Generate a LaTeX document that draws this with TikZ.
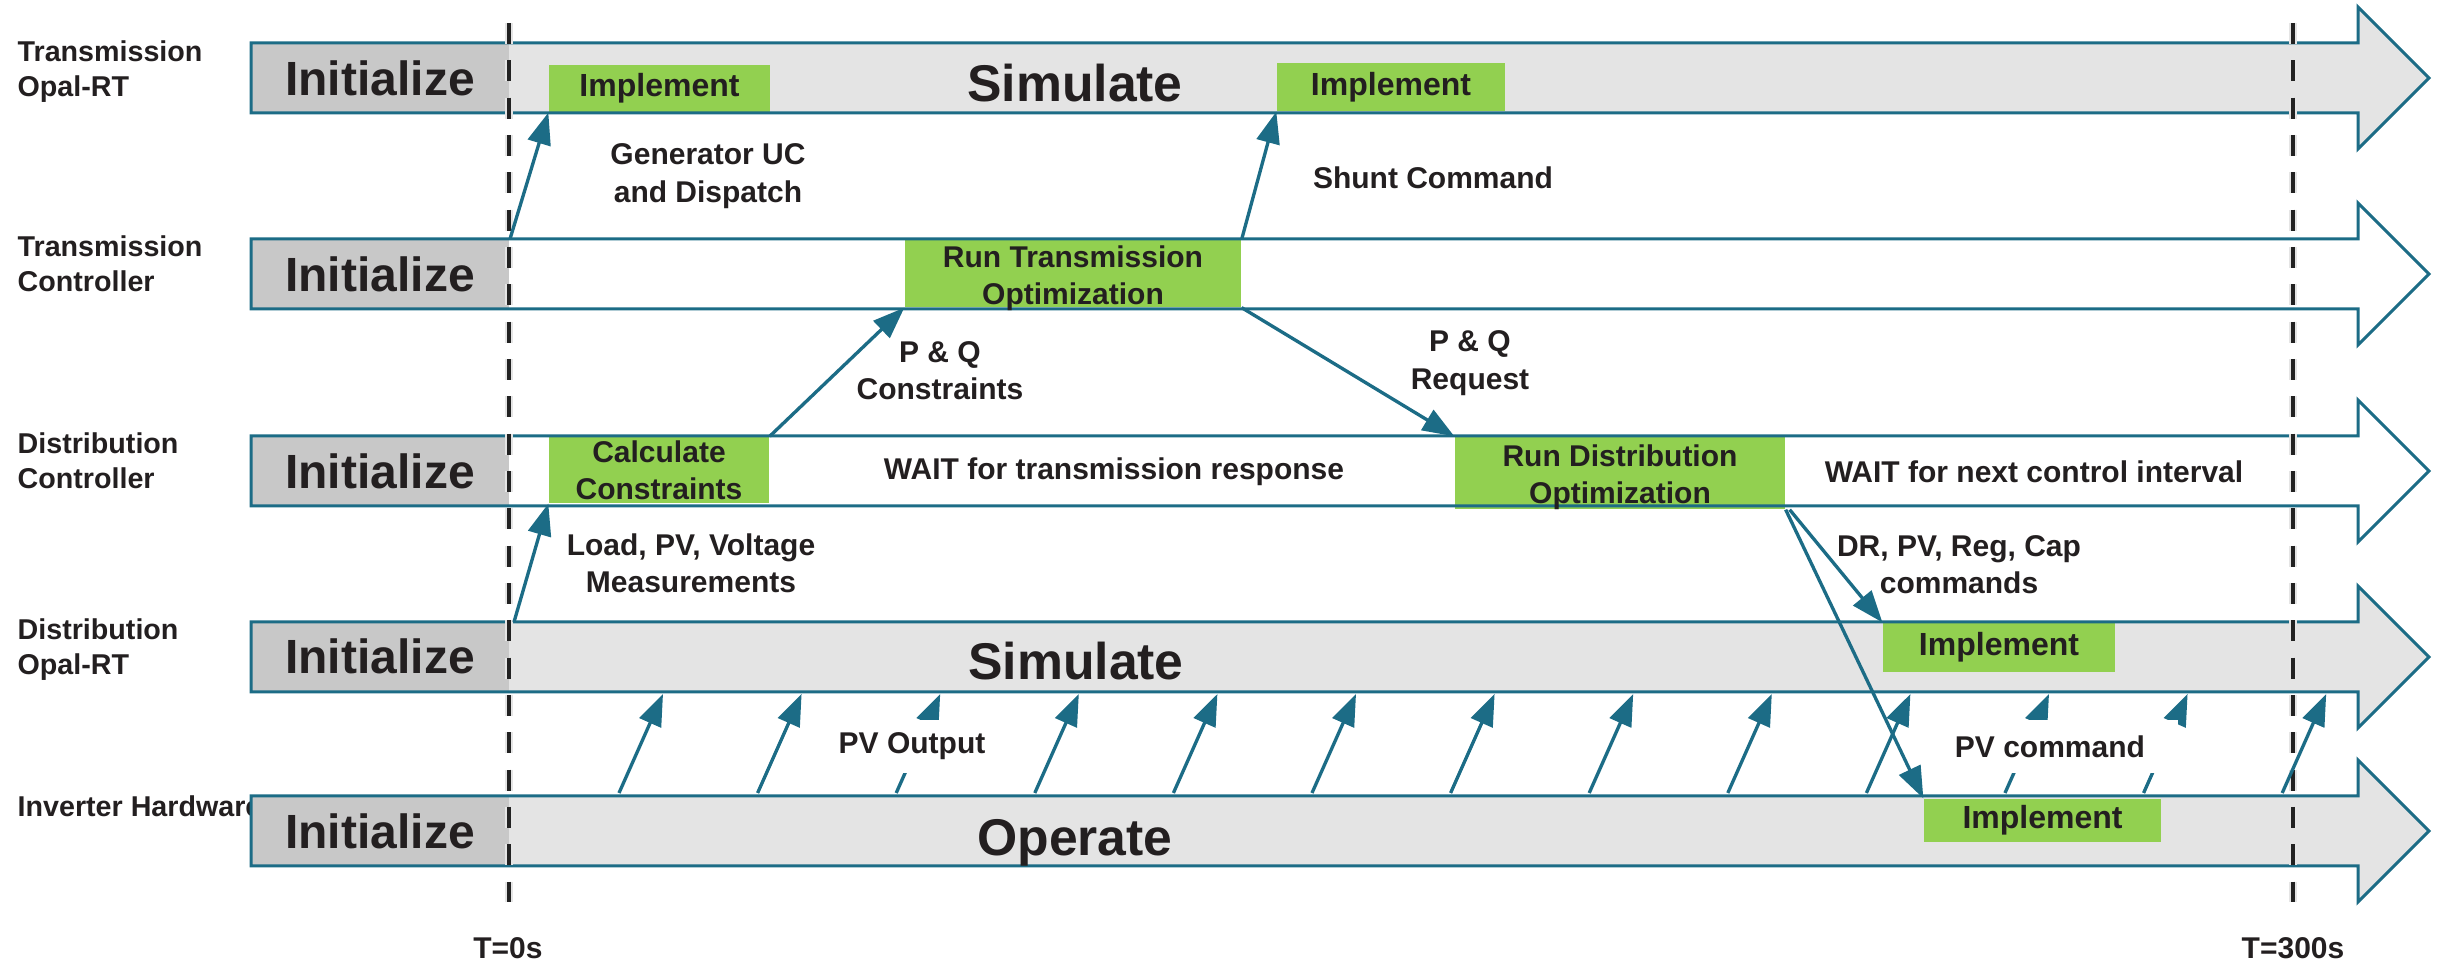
\documentclass[tikz,border=0pt]{standalone}
\usepackage{fontspec}
\setmainfont{Liberation Sans}
\usetikzlibrary{arrows.meta}

\definecolor{laneline}{HTML}{1C6C86}
\definecolor{lanegrey}{HTML}{E4E4E4}
\definecolor{initgrey}{HTML}{C8C8C8}
\definecolor{taskgreen}{HTML}{92D050}
\definecolor{inktext}{HTML}{231F20}
\definecolor{dashink}{HTML}{222222}

\begin{document}
\begin{tikzpicture}[x=0.3pt,y=-0.3pt,
  laneedge/.style={draw=laneline, line width=0.9pt, line join=miter},
  taskbox/.style={fill=taskgreen, inner sep=0pt, align=center, text=inktext,
                  font=\bfseries\fontsize{9}{11.2}\selectfont},
  tasktext/.style={inner sep=0pt, align=center, text=inktext,
                  font=\bfseries\fontsize{9}{11.2}\selectfont},
  impl/.style={taskbox, font=\bfseries\fontsize{9.6}{11.5}\selectfont},
  flow/.style={draw=laneline, line width=1pt, -{Triangle[length=9.5pt,width=7pt]}},
  lbl/.style={font=\bfseries\fontsize{9}{11.2}\selectfont, align=center, text=inktext},
  heading/.style={font=\bfseries\fontsize{14.4}{18}\selectfont, text=inktext, anchor=base, inner sep=0pt},
  bigheading/.style={heading, font=\bfseries\fontsize{15.5}{18}\selectfont},
  lanename/.style={font=\bfseries\fontsize{8.6}{10.5}\selectfont, text=inktext, anchor=base west, inner sep=0pt},
  timeline/.style={draw=dashink, line width=1.3pt, dash pattern=on 6.3pt off 4.9pt},
  timehalo/.style={draw=black!10, line width=2.6pt, dash pattern=on 6.3pt off 4.9pt},
  gapbox/.style={lbl, fill=white, inner sep=0pt, minimum height=15.9pt}]

\useasboundingbox (0,0) rectangle (2446,973);

% lane names (drawn first: the lane body may overlap them)
\node[lanename] (n1a) at (17,62)  {Transmission};
\node[lanename] (n1b) at (17,97)  {Opal-RT};
\node[lanename] (n2a) at (17,257) {Transmission};
\node[lanename] (n2b) at (17,292) {Controller};
\node[lanename] (n3a) at (17,454) {Distribution};
\node[lanename] (n3b) at (17,489) {Controller};
\node[lanename] (n4a) at (17,640) {Distribution};
\node[lanename] (n4b) at (17,675) {Opal-RT};
\node[lanename] (n5a) at (17,817) {Inverter Hardware};

% lane bodies: top / bottom / fill
\foreach \t/\b/\f in {43/113/lanegrey,239/309/white,436/506/white,622/692/lanegrey,796/866/lanegrey}{
  \fill[\f] (251,\t) -- (2358,\t) -- (2358,\t-36) -- (2429,{(\t+\b)/2})
            -- (2358,\b+36) -- (2358,\b) -- (251,\b) -- cycle;
  \fill[initgrey] (251,\t) rectangle (509,\b);
}

% task boxes
\node[impl, minimum width=66.3pt, minimum height=14.1pt] (impl1) at (659.5,88.5) {Implement};
\node[impl, minimum width=68.4pt, minimum height=14.4pt] (impl2) at (1391,87) {Implement};
\node[taskbox, minimum width=100.8pt, minimum height=20.1pt] (runT) at (1073,273.5) {};
\node[taskbox, minimum width=66pt, minimum height=19.8pt] (calc) at (659,470) {Calculate\\Constraints};
\node[taskbox, minimum width=99pt, minimum height=21.6pt] (runD) at (1620,473) {};
\node[impl, minimum width=69.6pt, minimum height=14.7pt] (impl3) at (1999,647.5) {Implement};
\node[impl, minimum width=71.1pt, minimum height=12.9pt] (impl4) at (2042.5,820.5) {Implement};

% lane outlines
\foreach \t/\b in {43/113,239/309,436/506,622/692,796/866}{
  \draw[laneedge] (251,\t) -- (2358,\t) -- (2358,\t-36) -- (2429,{(\t+\b)/2})
            -- (2358,\b+36) -- (2358,\b) -- (251,\b) -- cycle;
}

% optimisation task texts (set a little low in their boxes)
\node[tasktext] (runTtext) at ([yshift=-1.5pt]runT.center) {Run Transmission\\Optimization};
\node[tasktext] (runDtext) at ([yshift=-1.2pt]runD.center) {Run Distribution\\Optimization};

% lane headings
\node[heading] (init1) at (380,96)  {Initialize};
\node[heading] (init2) at (380,292) {Initialize};
\node[heading] (init3) at (380,489) {Initialize};
\node[heading] (init4) at (380,674) {Initialize};
\node[heading] (init5) at (380,849) {Initialize};
\node[bigheading] (sim1) at (1075,102) {Simulate};
\node[bigheading] (sim4) at (1076,680) {Simulate};
\node[bigheading] (op5)  at (1075,855) {Operate};

% time markers
\coordinate (t0top) at (509,23);
\coordinate (t0bot) at (509,902);
\coordinate (t1top) at (2293,23);
\coordinate (t1bot) at (2293,902);
\draw[timehalo] (t0top) -- (t0bot);
\draw[timehalo] (t1top) -- (t1bot);
\draw[timeline] (t0top) -- (t0bot);
\draw[timeline] (t1top) -- (t1bot);
\node[lbl] (tzero) at (508,948) {T=0s};
\node[lbl] (tend) at (2293,948) {T=300s};

% in-lane texts
\node[lbl] (wait1) at (1114,472) {WAIT for transmission response};
\node[lbl] (wait2) at (2034,472) {WAIT for next control interval};

% message flows
\coordinate (gen0) at (510,239);
\coordinate (meas0) at (514,622);
\draw[flow] (gen0) -- (impl1.south west);
\draw[flow] (runT.north east) -- (impl2.south west);
\draw[flow] (calc.north east) -- (runT.south west);
\draw[flow] (runT.south east) -- (runD.north west);
\draw[flow] (meas0) -- (calc.south west);
\draw[flow] ([xshift=1.2pt]runD.south east) -- (impl3.north west);
\draw[flow] (runD.south east) -- (impl4.north west);

% periodic PV exchange between inverter and distribution simulator
\foreach \k in {0,...,12}{
  \pgfmathsetmacro\xh{663+138.6*\k}
  \coordinate (pvtail\k) at (\xh-44,793);
  \coordinate (pvhead\k) at (\xh,694);
  \draw[flow] (pvtail\k) -- (pvhead\k);
}

% flow labels
\node[lbl] (genuc) at (708,176) {Generator UC\\and Dispatch};
\node[lbl] (shunt) at (1433,178) {Shunt Command};
\node[lbl] (pqc) at (940,371) {P \& Q\\Constraints};
\node[lbl] (pqr) at (1470,363) {P \& Q\\Request};
\node[lbl] (meas) at (691,563) {Load, PV, Voltage\\Measurements};
\node[lbl] (cmds) at (1959,565) {DR, PV, Reg, Cap\\commands};
\node[gapbox, minimum width=54pt] (pvout) at (912,746.5) {PV Output};
\node[gapbox, minimum width=76.8pt] (pvcmd) at (2050,746.5) {PV command};

\end{tikzpicture}
\end{document}
